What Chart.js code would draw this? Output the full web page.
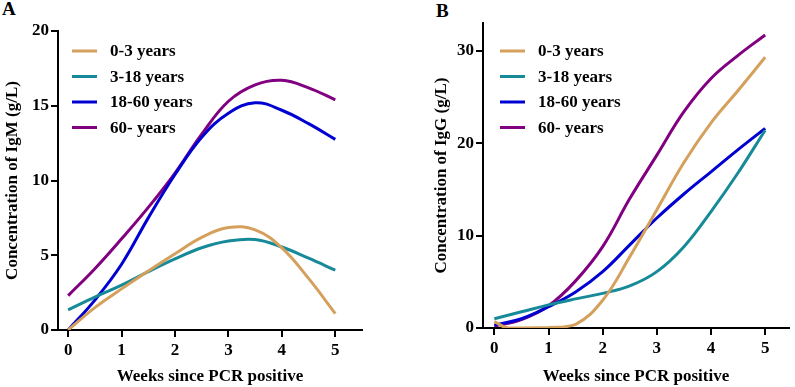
<!DOCTYPE html>
<html>
<head>
<meta charset="UTF-8"/>
<title>IgM / IgG by age group</title>
<script src="https://cdn.jsdelivr.net/npm/chart.js@4.4.0/dist/chart.umd.min.js"></script>
<style>
    body { margin: 0; background: #fff; }
    #wrap { position: relative; width: 795px; height: 387px; }
    .panel { position: absolute; top: 0; height: 387px; }
    #boxA { left: 0; width: 400px; }
    #boxB { left: 429px; width: 366px; }
    .tag { position: absolute; font: bold 19px "Liberation Serif", serif; color: #000; }
</style>
</head>
<body>
<div id="wrap">
    <div class="tag" style="left:2px; top:-2px;">A</div>
    <div class="tag" style="left:436px; top:0px;">B</div>
    <div class="panel" id="boxA"><canvas id="chartA"></canvas></div>
    <div class="panel" id="boxB"><canvas id="chartB"></canvas></div>
</div>
<script>
    // 연령 그룹
    var groups = ["0-3 years", "3-18 years", "18-60 years", "60- years"];
    var colors = ["rgb(212,160,92)", "rgb(22,138,152)", "rgb(0,0,210)", "rgb(128,0,128)"];

    // x 값 (주)
    var weeks = [0, 0.5, 1, 1.5, 2, 2.5, 3, 3.5, 4, 4.5, 5];
    var weeksTanB = [0, 0.25, 1, 1.5, 2, 2.5, 3, 3.5, 4, 4.5, 5];

    // A: IgM (g/L)
    var igm_0_3   = [0, 1.5, 2.75, 3.95, 5.1, 6.2, 6.85, 6.7, 5.5, 3.45, 1.1];
    var igm_3_18  = [1.35, 2.2, 3.0, 3.9, 4.75, 5.5, 5.95, 6.05, 5.55, 4.8, 4.0];
    var igm_18_60 = [0, 2.0, 4.4, 7.5, 10.4, 12.9, 14.5, 15.2, 14.7, 13.8, 12.75];
    var igm_60    = [2.3, 4.1, 6.1, 8.2, 10.5, 13.1, 15.3, 16.4, 16.7, 16.2, 15.4];

    // B: IgG (g/L)
    var igg_0_3   = [0.7, 0, 0.05, 0.4, 3.0, 7.7, 12.8, 17.9, 22.2, 25.7, 29.3];
    var igg_3_18  = [1.0, 1.75, 2.5, 3.15, 3.75, 4.55, 6.1, 8.8, 12.6, 16.8, 21.4];
    var igg_18_60 = [0.3, 1.0, 2.3, 3.9, 6.1, 9.0, 11.9, 14.5, 16.9, 19.3, 21.6];
    var igg_60    = [0.2, 0.9, 2.4, 5.1, 8.8, 14.0, 18.7, 23.4, 27.0, 29.5, 31.7];

    var FONT = "Liberation Serif";

    function pts(xs, ys) {
        return xs.map(function (x, i) { return {x: x, y: ys[i]}; });
    }

    function makeSets(list) {
        return list.map(function (s, i) {
            return {
                label: groups[i],
                data: pts(s[0], s[1]),
                borderColor: colors[i],
                backgroundColor: colors[i],
                borderWidth: 3,
                pointRadius: 0,
                fill: false,
                tension: 0.4
            };
        });
    }

    // 차트 안쪽 범례 그리기
    function legendPlugin(x0, y0) {
        return {
            id: 'innerLegend',
            afterDraw: function (chart) {
                var ctx = chart.ctx;
                ctx.save();
                ctx.font = "bold 17px " + FONT;
                ctx.textBaseline = 'middle';
                chart.data.datasets.forEach(function (ds, i) {
                    var y = y0 + i * 25.5;
                    ctx.strokeStyle = ds.borderColor;
                    ctx.lineWidth = 3;
                    ctx.beginPath();
                    ctx.moveTo(x0, y);
                    ctx.lineTo(x0 + 25, y);
                    ctx.stroke();
                    ctx.fillStyle = '#000';
                    ctx.fillText(ds.label, x0 + 38, y + 1);
                });
                ctx.restore();
            }
        };
    }

    function makeChart(id, sets, opt) {
        return new Chart(document.getElementById(id), {
            type: 'line',
            data: {datasets: sets},
            options: {
                animation: false,
                responsive: true,
                maintainAspectRatio: false,
                layout: {padding: {top: opt.top, right: opt.right, left: 0, bottom: 0}},
                plugins: {legend: {display: false}, tooltip: {enabled: false}},
                scales: {
                    x: {
                        type: 'linear',
                        min: opt.xmin, max: opt.xmax,
                        afterFit: function (s) { s.height = opt.xh; },
                        border: {color: '#000', width: 2},
                        grid: {drawOnChartArea: false, drawTicks: true, tickLength: 7, color: '#000', lineWidth: 2},
                        ticks: {stepSize: 1, includeBounds: false, color: '#000', padding: 3, maxRotation: 0,
                                font: {family: FONT, size: 17, weight: 'bold'}},
                        title: {display: true, text: 'Weeks since PCR positive', color: '#000', padding: {top: 1, bottom: 0},
                                font: {family: FONT, size: 17, weight: 'bold'}}
                    },
                    y: {
                        min: 0, max: opt.ymax,
                        afterFit: function (s) { s.width = opt.yw; },
                        border: {color: '#000', width: 2},
                        grid: {drawOnChartArea: false, drawTicks: true, tickLength: 7, color: '#000', lineWidth: 2},
                        ticks: {stepSize: opt.ystep, includeBounds: false, color: '#000', padding: 2,
                                font: {family: FONT, size: 17, weight: 'bold'}},
                        title: {display: true, text: opt.ytitle, color: '#000', padding: {top: 2, bottom: 4},
                                font: {family: FONT, size: 17, weight: 'bold'}}
                    }
                }
            },
            plugins: [legendPlugin(opt.lx, opt.ly)]
        });
    }

    makeChart('chartA', makeSets([
        [weeks, igm_0_3], [weeks, igm_3_18], [weeks, igm_18_60], [weeks, igm_60]
    ]), {
        top: 31, right: 38, xh: 57, yw: 58, xmin: -0.19, xmax: 5.5,
        ymax: 20, ystep: 5, ytitle: 'Concentration of IgM (g/L)', lx: 72, ly: 51
    });

    makeChart('chartB', makeSets([
        [weeksTanB, igg_0_3], [weeks, igg_3_18], [weeks, igg_18_60], [weeks, igg_60]
    ]), {
        top: 23, right: 6, xh: 59, yw: 54, xmin: -0.21, xmax: 5.44,
        ymax: 33, ystep: 10, ytitle: 'Concentration of IgG (g/L)', lx: 71, ly: 51
    });
</script>
</body>
</html>
